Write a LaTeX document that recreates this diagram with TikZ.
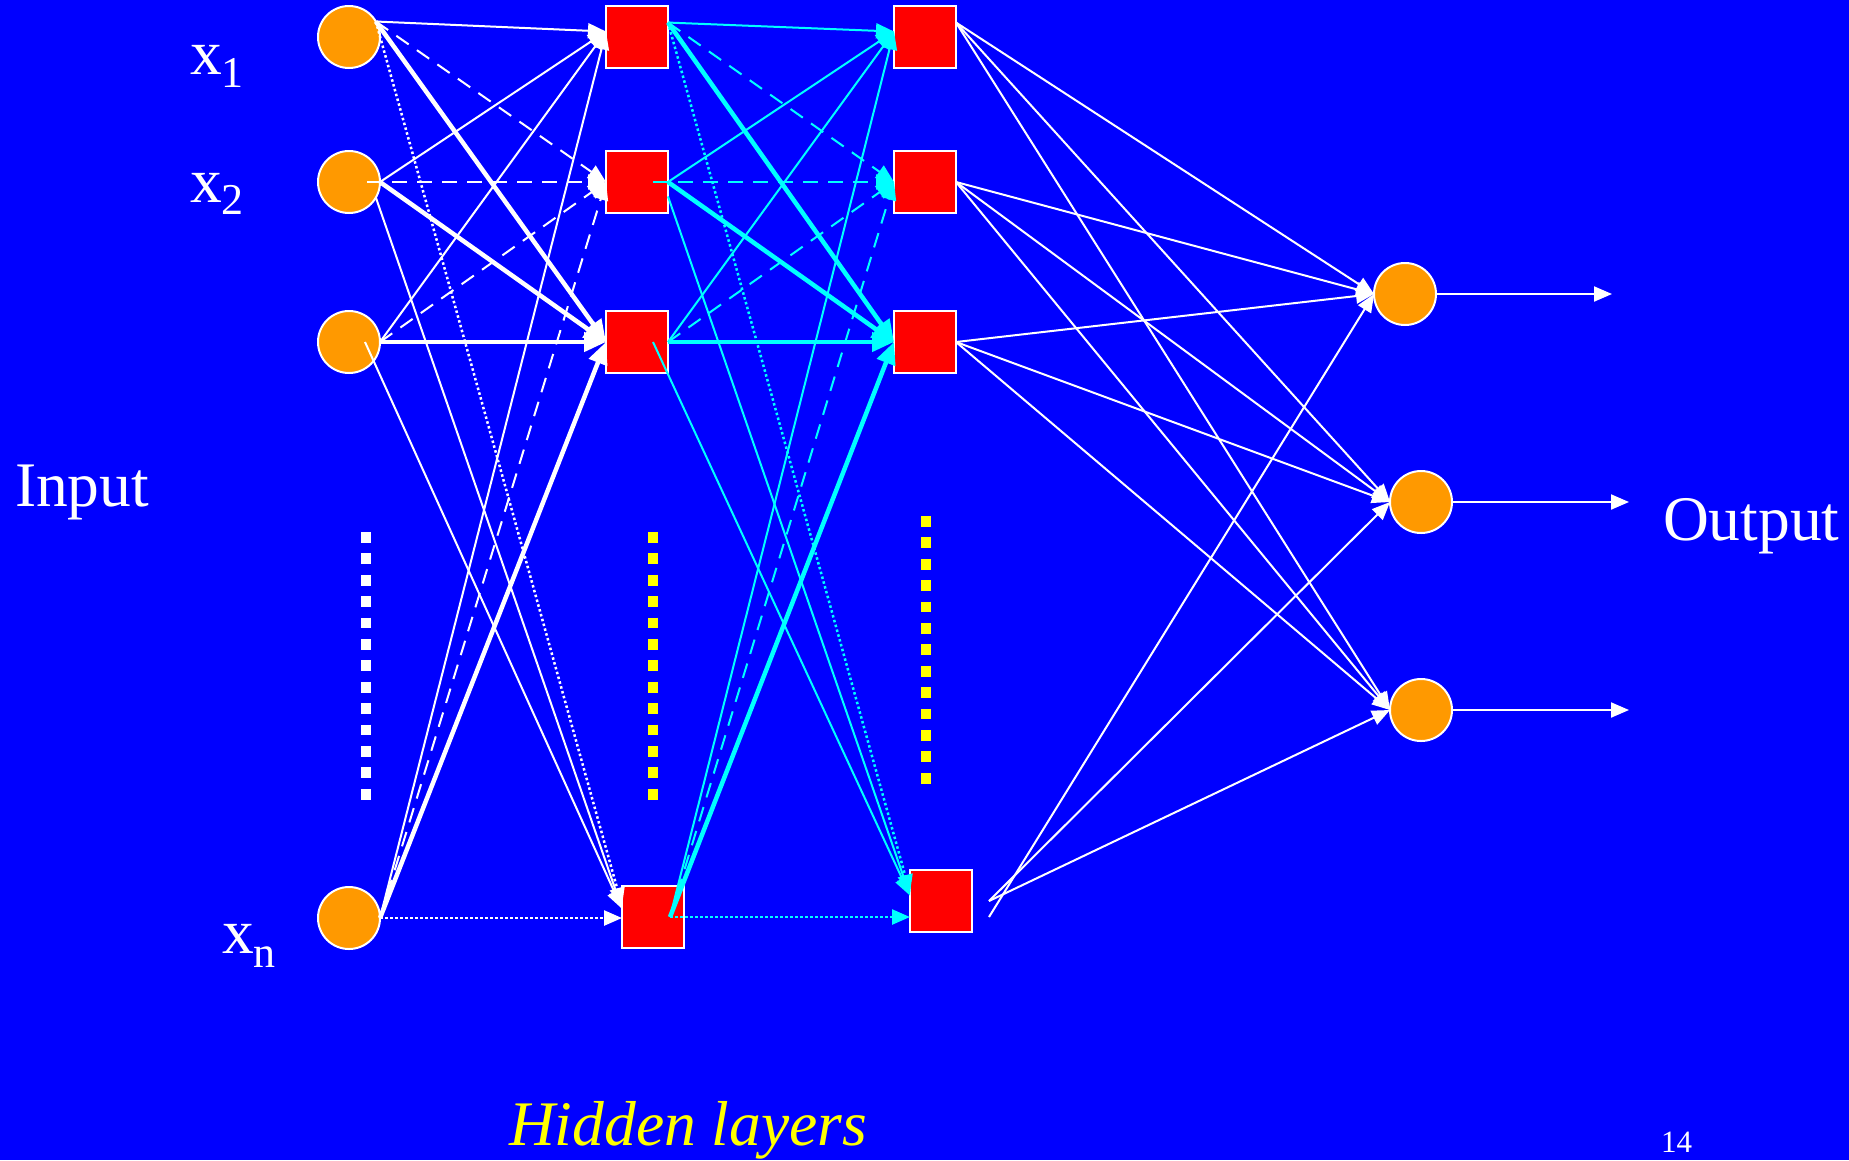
\documentclass[tikz,border=0pt]{standalone}
\usepackage{fontspec}
\setmainfont{Liberation Serif}
\usetikzlibrary{arrows.meta}
\definecolor{slideblue}{RGB}{0,0,255}
\definecolor{nodeorange}{RGB}{255,153,0}
\definecolor{linkcyan}{RGB}{0,255,255}
\definecolor{dotyellow}{RGB}{255,255,0}
\begin{document}
\begin{tikzpicture}[
        x=1pt, y=-1pt,
        every node/.style = {inner sep=0pt, outer sep=0pt},
        neuron/.style = {circle, draw=white, line width=2pt, fill=nodeorange, minimum size=62pt},
        cell/.style = {rectangle, draw=white, line width=2pt, fill=red, minimum size=62pt},
        txt/.style = {white, anchor=base west, font=\fontsize{63.5}{70}\selectfont},
        link/.style = {line width=2pt, -{Triangle[length=18pt, width=15pt]}},
        dashlink/.style = {link, dash pattern=on 15pt off 10pt},
        boldlink/.style = {line width=4.5pt, -{Triangle[length=22pt, width=19pt]}},
        dotlink/.style = {link, line width=2.5pt, dash pattern=on 2.5pt off 2.5pt},
        dots/.style = {line width=10.7pt, dash pattern=on 10.7pt off 10.7pt}
        ]
        \fill[slideblue] (0,0) rectangle (1849,1160);
        \useasboundingbox (0,0) rectangle (1849,1160);

        % input layer
        \node[neuron] (I1) at (349,37) {};
        \node[neuron] (I2) at (349,182) {};
        \node[neuron] (I3) at (349,342) {};
        \node[neuron] (In) at (349,918) {};
        % hidden layers
        \node[cell] (A1) at (637,37) {};
        \node[cell] (A2) at (637,182) {};
        \node[cell] (A3) at (637,342) {};
        \node[cell] (An) at (653,917) {};
        \node[cell] (B1) at (925,37) {};
        \node[cell] (B2) at (925,182) {};
        \node[cell] (B3) at (925,342) {};
        \node[cell] (Bn) at (941,901) {};
        % output layer
        \node[neuron] (O1) at (1405,294) {};
        \node[neuron] (O2) at (1421,502) {};
        \node[neuron] (O3) at (1421,710) {};

        \coordinate (I2c) at ([xshift=18pt]I2.center);
        \coordinate (I3c) at ([xshift=16pt]I3.center);
        \coordinate (A2c) at ([xshift=16pt]A2.center);
        \coordinate (A3c) at ([xshift=16pt]A3.center);
        \coordinate (Anc) at ([xshift=17pt]An.center);
        \coordinate (Bn1) at ([xshift=17pt]Bn.east);
        \coordinate (Bn2) at ([xshift=17pt, yshift=-16pt]Bn.east);
        \coordinate (y1) at (1612,294);
        \coordinate (y2) at (1629,502);
        \coordinate (y3) at (1629,710);

        % input -> first hidden layer
        \begin{scope}[white]
            \foreach \src/\dsrc in {I1.30/I1.30, I2.east/I2c, I3.east/I3.east, In.east/In.east} {
                \draw[link] (\src) -- (A1.170);
                \draw[dashlink] (\dsrc) -- (A2.west);
                \draw[boldlink] (\src) -- (A3.west);
            }
            \draw[dotlink] (I1.30) -- (An.160);
            \draw[link] (I2.-30) -- (An.165);
            \draw[link] (I3c) -- (An.165);
            \draw[dotlink] (In.east) -- (In.east -| An.west);
        \end{scope}

        % first -> second hidden layer
        \begin{scope}[linkcyan]
            \foreach \src/\dsrc in {A1.25/A1.25, A2.east/A2c, A3.east/A3.east, Anc/Anc} {
                \draw[link] (\src) -- (B1.170);
                \draw[dashlink] (\dsrc) -- (B2.west);
                \draw[boldlink] (\src) -- (B3.west);
            }
            \draw[dotlink] (A1.25) -- (Bn.165);
            \draw[link] (A2.-25) -- (Bn.170);
            \draw[link] (A3c) -- (Bn.170);
            \draw[dotlink] (Anc) -- (Anc -| Bn.west);
        \end{scope}

        % second hidden layer -> output
        \begin{scope}[white]
            \foreach \src in {B1.25, B2.east, B3.east} {
                \draw[link] (\src) -- (O1.west);
                \draw[link] (\src) -- (O2.west);
                \draw[link] (\src) -- (O3.west);
            }
            \draw[link] (Bn2) -- (O1.west);
            \draw[link] (Bn1) -- (O2.west);
            \draw[link] (Bn1) -- (O3.west);
            \draw[link] (O1.east) -- (y1);
            \draw[link] (O2.east) -- (y2);
            \draw[link] (O3.east) -- (y3);
        \end{scope}

        % vertical dots
        \draw[white, dots] (366,532) -- (366,800);
        \draw[dotyellow, dots] (653,532) -- (653,800);
        \draw[dotyellow, dots] (926,516) -- (926,784);

        % labels
        \node[txt] (x1) at (190,74) {x\raisebox{-13pt}{\fontsize{44}{44}\selectfont 1}};
        \node[txt] (x2) at (190,202) {x\raisebox{-12pt}{\fontsize{44}{44}\selectfont 2}};
        \node[txt] (xn) at (222,953) {x\raisebox{-14pt}{\fontsize{44}{44}\selectfont n}};
        \node[txt] (input) at (15,506) {Input};
        \node[txt] (output) at (1663,540) {Output};
        \node[txt, dotyellow, font=\fontsize{63.5}{70}\selectfont\itshape] (hidden) at (509,1145) {Hidden layers};
        \node[txt, font=\fontsize{31}{34}\selectfont] (page) at (1661,1152) {14};
\end{tikzpicture}
\end{document}
